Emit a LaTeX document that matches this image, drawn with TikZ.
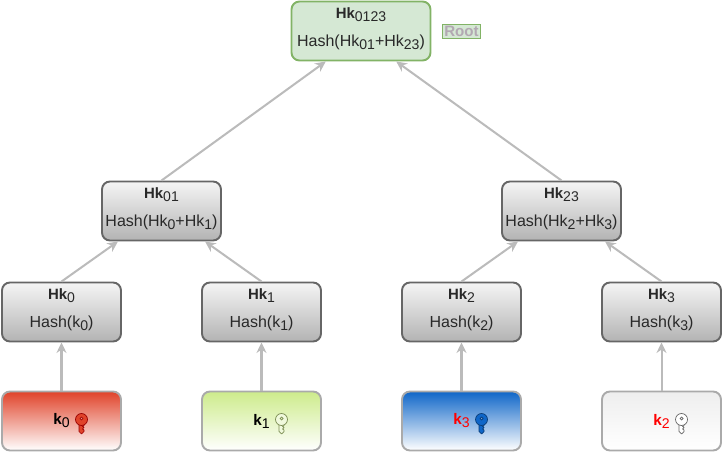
\documentclass[tikz,border=0pt]{standalone}
\usepackage{fontspec}
\setmainfont{Liberation Sans}
\usetikzlibrary{arrows.meta,calc,positioning}
\definecolor{hashtop}{RGB}{245,245,245}
\definecolor{hashbot}{RGB}{179,179,179}
\definecolor{hashline}{RGB}{102,102,102}
\definecolor{rootfill}{RGB}{213,232,212}
\definecolor{rootline}{RGB}{130,179,102}
\definecolor{roottext}{RGB}{178,168,178}
\definecolor{keyline}{RGB}{170,170,170}
\definecolor{flowgray}{RGB}{187,187,187}
\definecolor{keyred}{RGB}{224,67,42}
\definecolor{keygreen}{RGB}{205,235,139}
\definecolor{keyblue}{RGB}{15,102,200}
\definecolor{keywhite}{RGB}{238,238,238}
\definecolor{textgray}{RGB}{40,40,40}
\newcommand{\idx}[1]{\raisebox{-1.7pt}{\fontsize{8}{8}\selectfont\mdseries #1}}
\newcommand{\hk}[1]{{\fontsize{8.5}{16}\selectfont\textbf{Hk\idx{#1}}}}
\tikzset{
  flow/.style={draw=flowgray,line width=1.15pt,-{Stealth[length=2.1mm,width=2mm]}},
  hashbox/.style={draw=hashline,line width=1.1pt,top color=hashtop,bottom color=hashbot,
                  rounded corners=1.6mm,minimum width=2.38cm,minimum height=1.18cm,inner sep=0pt,
                  align=center,font=\fontsize{9.1}{16}\selectfont,text=textgray,
                  execute at end node={\rule[-4.6pt]{0pt}{0pt}}},
  rootbox/.style={hashbox,draw=rootline,top color=rootfill,bottom color=rootfill,minimum width=2.78cm},
  rootlab/.style={draw=rootline,fill=rootfill,line width=0.8pt,inner sep=1pt,text=roottext,
                  font=\fontsize{8.6}{10}\selectfont\bfseries},
  keybox/.style={draw=keyline,line width=1.1pt,bottom color=white,rounded corners=1.6mm,
                 minimum width=2.38cm,minimum height=1.18cm,inner sep=0pt,
                 font=\fontsize{8.7}{10}\selectfont},
  pics/keyicon/.style 2 args={code={
    \draw[draw=#1,fill=#2,line width=0.4pt,line join=round]
      (-0.05,-0.08) -- (-0.05,-0.24) -- (0,-0.29) -- (0.05,-0.24) -- (0.05,-0.21)
      -- (0.02,-0.19) -- (0.05,-0.16) -- (0.02,-0.14) -- (0.05,-0.12) -- (0.05,-0.08) -- cycle;
    \draw[draw=#1,fill=#2,line width=0.4pt,even odd rule] (0,0) circle (0.12) (0,0.02) circle (0.03);
  }},
}

\begin{document}
\begin{tikzpicture}[x=1cm,y=1cm]
  \path[use as bounding box] (0,0) rectangle (14.44,9.04);

  \node[rootbox] (HK0123) at (7.22,8.42) {\hk{0123}\\Hash(Hk\idx{01}+Hk\idx{23})};
  \node[rootlab] (ROOT) at (9.23,8.41) {Root};

  \node[hashbox] (HK01) at (3.23,4.82) {\hk{01}\\Hash(Hk\idx{0}+Hk\idx{1})};
  \node[hashbox] (HK23) at (11.23,4.82) {\hk{23}\\Hash(Hk\idx{2}+Hk\idx{3})};

  \node[hashbox] (HK0) at (1.23,2.8) {\hk{0}\\Hash(k\idx{0})};
  \node[hashbox] (HK1) at (5.23,2.8) {\hk{1}\\Hash(k\idx{1})};
  \node[hashbox] (HK2) at (9.23,2.8) {\hk{2}\\Hash(k\idx{2})};
  \node[hashbox] (HK3) at (13.23,2.8) {\hk{3}\\Hash(k\idx{3})};

  \node[keybox,top color=keyred] (K0) at (1.23,0.62) {\textbf{k}\idx{0}};
  \node[keybox,top color=keygreen] (K1) at (5.23,0.62) {\textbf{k}\idx{1}};
  \node[keybox,top color=keyblue,text=red] (K3) at (9.23,0.62) {\textbf{k}\idx{3}};
  \node[keybox,top color=keywhite,text=red] (K2) at (13.23,0.62) {\textbf{k}\idx{2}};

  \pic at ($(K0.center)+(0.4,0.03)$) {keyicon={red!60!black}{keyred}};
  \pic at ($(K1.center)+(0.4,0.03)$) {keyicon={keygreen!60!black}{keygreen!30}};
  \pic at ($(K3.center)+(0.4,0.03)$) {keyicon={keyblue!60!black}{keyblue}};
  \pic at ($(K2.center)+(0.4,0.03)$) {keyicon={hashline}{white}};

  \draw[flow] (K0.north) -- (HK0.south);
  \draw[flow] (K1.north) -- (HK1.south);
  \draw[flow] (K3.north) -- (HK2.south);
  \draw[flow] (K2.north) -- (HK3.south);
  \draw[flow] (HK0.north) -- ($(HK01.south west)!0.14!(HK01.south east)$);
  \draw[flow] (HK1.north) -- ($(HK01.south west)!0.86!(HK01.south east)$);
  \draw[flow] (HK2.north) -- ($(HK23.south west)!0.14!(HK23.south east)$);
  \draw[flow] (HK3.north) -- ($(HK23.south west)!0.86!(HK23.south east)$);
  \draw[flow] (HK01.north) -- ($(HK0123.south west)!0.25!(HK0123.south east)$);
  \draw[flow] (HK23.north) -- ($(HK0123.south west)!0.75!(HK0123.south east)$);
\end{tikzpicture}
\end{document}
